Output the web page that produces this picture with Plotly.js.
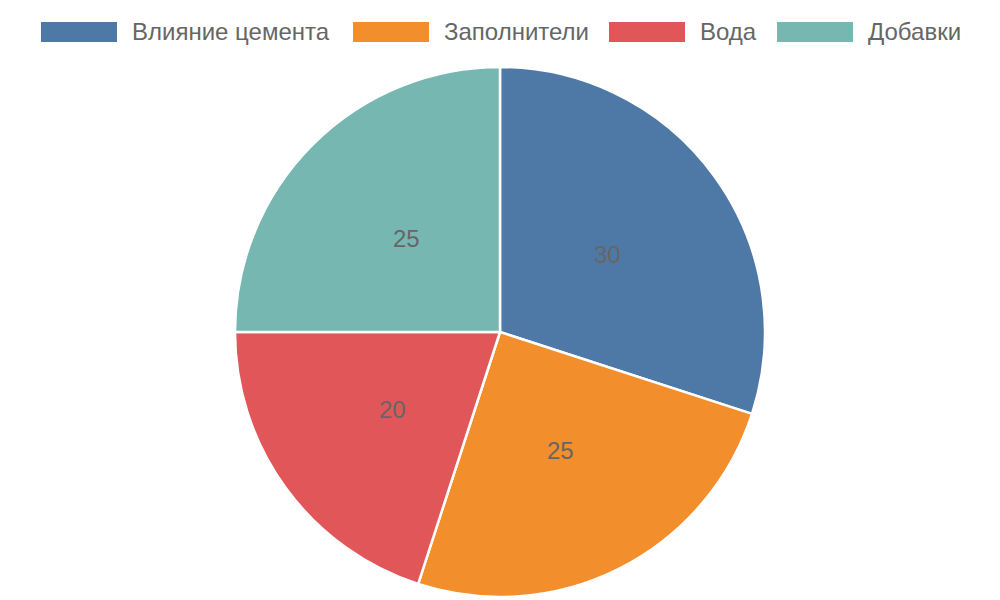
<!DOCTYPE html>
<html>
<head>
<meta charset="utf-8">
<script src="https://cdn.plot.ly/plotly-3.0.1.min.js"></script>
<style>html,body{margin:0;padding:0;background:#fff;}#chart{width:1000px;height:600px;}</style>
</head>
<body>
<div id="chart"></div>
<script>
const categories = ["Влияние цемента", "Заполнители", "Вода", "Добавки"];
const values = [30, 25, 20, 25];
const colors = ["#4e79a7", "#f28e2b", "#e15759", "#76b7b2"];

const W = 1000, H = 600;
const M = {l: 0, r: 0, t: 67, b: 3};
const plotH = H - M.t - M.b;
const FONT = "Liberation Sans, Arial, sans-serif";
const TEXT_COLOR = "#666";
const FS = 24;

// inside labels at half radius along slice mid-angle
const total = values.reduce((a, b) => a + b, 0);
const annotations = [];
let acc = 0;
values.forEach((v, i) => {
  const mid = (acc + v / 2) / total * 2 * Math.PI;
  acc += v;
  const rFrac = 0.25;
  const dx = Math.sin(mid) * rFrac * plotH / W;
  const dy = Math.cos(mid) * rFrac;
  annotations.push({
    xref: "paper", yref: "paper", x: 0.5 + dx, y: 0.5 + dy,
    text: String(v), showarrow: false,
    xanchor: "center", yanchor: "middle",
    font: {family: FONT, size: FS, color: TEXT_COLOR}
  });
});

// custom legend on top (layout positions in px)
const legendLeft = [41, 353, 609, 777];
const SW = 76, SH = 20, GAP_T = 13;
const legY = 32;
const shapes = [];
categories.forEach((c, i) => {
  const x = legendLeft[i];
  shapes.push({
    type: "rect", xref: "paper", yref: "paper",
    x0: x / W, x1: (x + SW) / W,
    y0: (H - M.b - (legY + SH / 2)) / plotH, y1: (H - M.b - (legY - SH / 2)) / plotH,
    fillcolor: colors[i], line: {width: 0}
  });
  annotations.push({
    xref: "paper", yref: "paper",
    x: (x + SW + GAP_T) / W, y: (H - M.b - legY) / plotH,
    text: c, showarrow: false, xanchor: "left", yanchor: "middle",
    font: {family: FONT, size: FS, color: TEXT_COLOR}
  });
});

const data = [{
  type: "pie",
  labels: categories,
  values: values,
  sort: false,
  direction: "clockwise",
  rotation: 0,
  textinfo: "none",
  hoverinfo: "label+value",
  marker: {colors: colors, line: {color: "#fff", width: 2.5}},
  showlegend: false
}];

const layout = {
  width: W, height: H,
  margin: M,
  paper_bgcolor: "#fff",
  showlegend: false,
  font: {family: FONT, size: FS, color: TEXT_COLOR},
  annotations: annotations,
  shapes: shapes
};

Plotly.newPlot("chart", data, layout, {displayModeBar: false, staticPlot: true});
</script>
</body>
</html>
